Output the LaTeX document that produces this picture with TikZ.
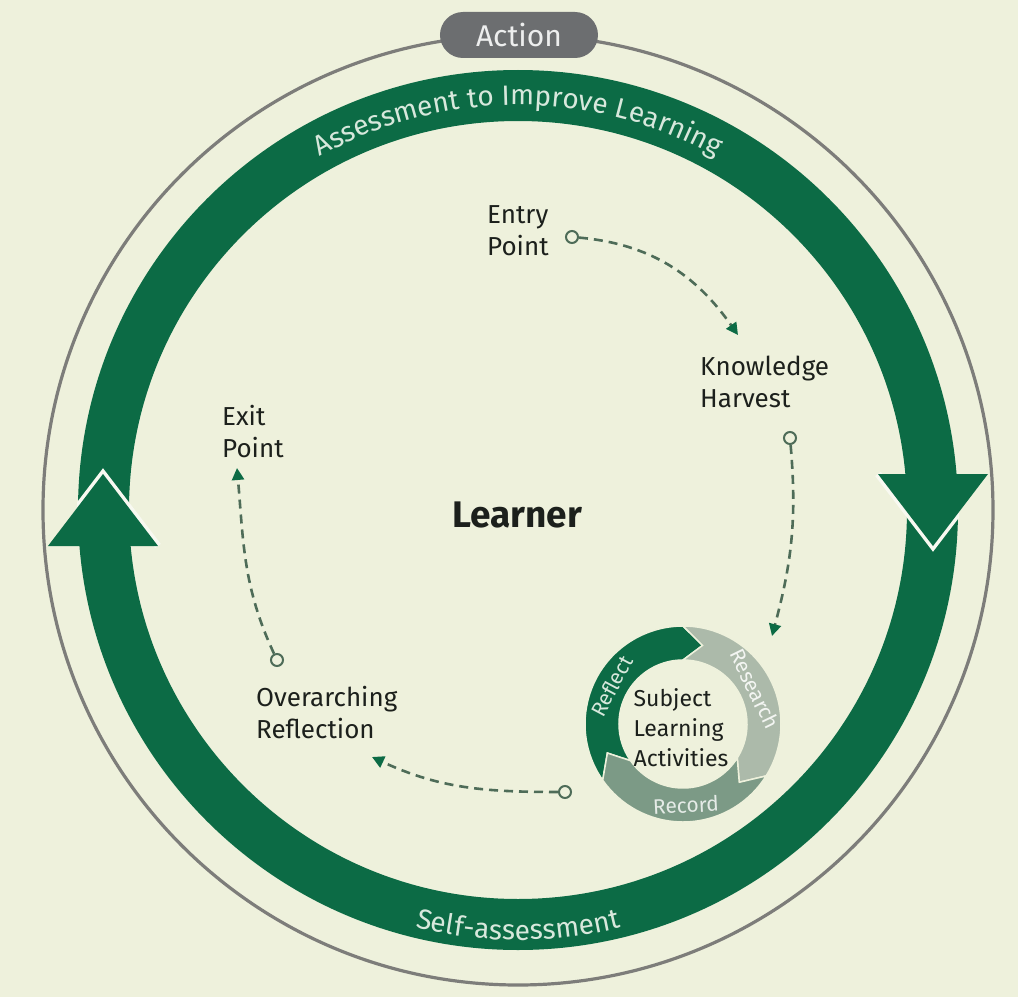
\documentclass[tikz,border=0pt]{standalone}
\usepackage{fontspec}
\setmainfont{Fira Sans}
\usetikzlibrary{arrows.meta,decorations.text}

\definecolor{paper}{RGB}{238,241,220}
\definecolor{bandgreen}{RGB}{12,107,69}
\definecolor{researchgray}{RGB}{172,186,170}
\definecolor{recordgray}{RGB}{124,154,134}
\definecolor{rimgray}{RGB}{125,125,122}
\definecolor{pillgray}{RGB}{108,110,112}
\definecolor{flowgray}{RGB}{78,108,88}
\definecolor{inktext}{RGB}{28,32,28}
\definecolor{bandtext}{RGB}{215,232,220}

\newcommand{\stagefont}{\fontsize{26}{32}\selectfont}
\newcommand{\ringfont}{\fontsize{28}{30}\selectfont}
\newcommand{\cyclefont}{\fontsize{21}{21}\selectfont}

\tikzset{
    stage/.style={align=left, anchor=north west, inner sep=0pt, text=inktext, font=\stagefont},
    flowline/.style={flowgray, line width=2.6pt, dash pattern=on 9pt off 6pt, -{Triangle[length=12pt,width=12pt,color=bandgreen]}},
    startdot/.style={circle, draw=flowgray, line width=2pt, fill=paper, minimum size=12pt, inner sep=0pt},
    cyclelabel/.style={font=\cyclefont, inner sep=0pt},
}

\begin{document}
\begin{tikzpicture}[x=1pt, y=1pt]
    \useasboundingbox (-518,-487) rectangle (500,510);
    \fill [paper] (-518,-487) rectangle (500,510);
    \draw [rimgray, line width=3.2pt] (0,0) circle (475);
    \node (action) [fill=pillgray, rounded corners=23pt, minimum width=158pt, minimum height=46pt, text=white!88!pillgray, font=\fontsize{30}{30}\selectfont] at (1,475) {Action};

    % big ring with its two heads
    \draw [bandgreen, line width=51pt] (0,0) circle (414.5);
    \begin{scope}
        \clip (0,0) circle (441);
        \draw [white!60!paper, line width=7pt] (360,36) -- (415,-36) -- (470,36);
        \draw [white!60!paper, line width=7pt] (-470,-36) -- (-415,36) -- (-360,-36);
    \end{scope}
    \fill [bandgreen] (360,36) -- (415,-36) -- (470,36) -- cycle;
    \fill [bandgreen] (-470,-36) -- (-415,36) -- (-360,-36) -- cycle;
    \path [decorate, decoration={text along path, text align=center, text color=bandtext,
        text={|\ringfont|Assessment to Improve Learning}}]
        (125:405) arc [start angle=125, end angle=55, radius=405];
    \path [decorate, decoration={text along path, text align=center, text color=bandtext,
        text={|\ringfont|Self-assessment}}]
        (235:430) arc [start angle=235, end angle=305, radius=430];

    \node (learner) [font=\fontsize{37}{37}\selectfont\bfseries, text=inktext] at (-1,-5) {Learner};

    % small cycle
    \begin{scope}[shift={(165,-214)}]
        \foreach \a/\b/\col in {215/90/bandgreen, 90/-32/researchgray, -32/-145/recordgray}
            \filldraw [fill=\col, draw=paper, line width=1.5pt] (\a:98) arc [start angle=\a, end angle=\b, radius=98] -- ({\b-14}:81) -- (\b:64) arc [start angle=\b, end angle=\a, radius=64] -- ({\a-14}:81) -- cycle;
        \node (reflect) [cyclelabel, text=bandtext, rotate=62] at (152:81) {Reflect};
        \node (research) [cyclelabel, text=white!85!researchgray, rotate=-64] at (26:80) {Research};
        \node (record) [cyclelabel, text=white!80!recordgray, rotate=3] at (-88:81) {Record};
    \end{scope}
    \node (subject) [align=left, inner sep=0pt, text=inktext, font=\fontsize{23}{30}\selectfont] at (163,-218) {Subject\\Learning\\Activities};

    \node (entry) [stage] at (-31,305) {Entry\\Point};
    \node (harvest) [stage] at (182,154) {Knowledge\\Harvest};
    \node (exit) [stage] at (-296,105) {Exit\\Point};
    \node (overarching) [stage] at (-262,-176) {Overarching\\Reflection};

    \node (entrydot) [startdot] at (54,273) {};
    \coordinate (harvesttip) at (220,175);
    \draw [flowline] (entrydot) to [out=-5, in=125] (harvesttip);
    \node (harvestdot) [startdot] at (272,72) {};
    \coordinate (cycletip) at (254,-126);
    \draw [flowline] (harvestdot) to [out=-85, in=75] (cycletip);
    \node (cycledot) [startdot] at (47,-282) {};
    \coordinate (reflectiontip) at (-146,-247);
    \draw [flowline] (cycledot) to [out=180, in=-25] (reflectiontip);
    \node (reflectiondot) [startdot] at (-241,-150) {};
    \coordinate (exittip) at (-281,42);
    \draw [flowline] (reflectiondot) to [out=115, in=-85] (exittip);
\end{tikzpicture}
\end{document}
